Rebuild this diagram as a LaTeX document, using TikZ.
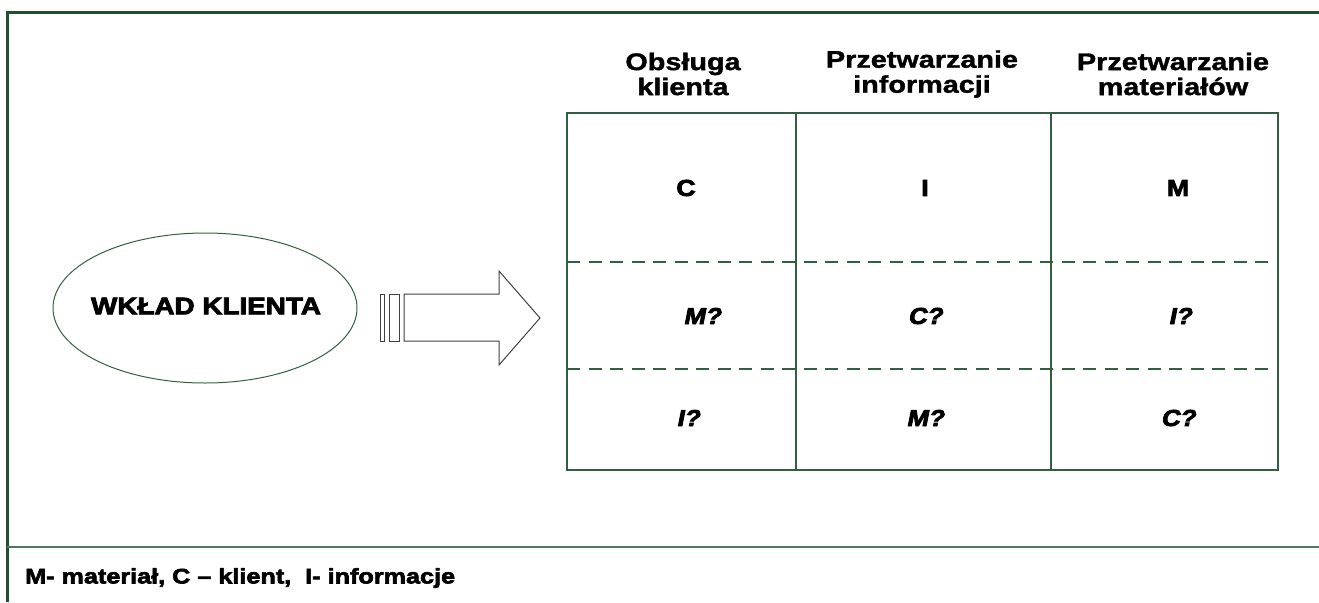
\documentclass[tikz,border=0pt]{standalone}
\usepackage{fontspec}
\setmainfont{Liberation Sans}
\newfontfamily\hfont[FakeStretch=1.2,FakeBold=1.5]{Liberation Sans Bold}
\newfontfamily\bfont[FakeStretch=1.16,FakeBold=3.5]{Liberation Sans Bold}
\newfontfamily\lfont[FakeStretch=1.2,FakeBold=3]{Liberation Sans Bold}
\newfontfamily\bifont[FakeStretch=1.12,FakeBold=3.5,FakeSlant=0.2]{Liberation Sans Bold}
\definecolor{frameg}{RGB}{32,80,48}
\definecolor{lineg}{RGB}{50,95,65}
\tikzset{
  frameline/.style={draw=frameg,line width=3pt},
  tabline/.style={draw=lineg,line width=2pt},
  dashline/.style={draw=lineg,line width=1.5pt,dash pattern=on 13pt off 8.5pt},
  hdr/.style={font=\hfont\fontsize{24}{25}\selectfont,align=center,inner sep=0pt},
  cell/.style={font=\bfont\fontsize{23}{26}\selectfont,inner sep=0pt},
  icell/.style={font=\bifont\fontsize{23}{26}\selectfont,inner sep=0pt},
  arrowpart/.style={draw=black!75,line width=1pt,fill=white}
}
\begin{document}
\begin{tikzpicture}[x=1pt,y=-1pt]
\useasboundingbox (0,0) rectangle (1319,602);
% outer frame
\coordinate (ftl) at (7,13);
\coordinate (ftr) at (1319,13);
\coordinate (fbl) at (7,602);
\draw[frameline] (ftr) -- (ftl) -- (fbl);
\coordinate (sl) at (7,547);
\coordinate (sr) at (1319,547);
\draw[draw=lineg!85,line width=1.5pt] (sl) -- (sr);
% ellipse
\draw[draw=lineg,line width=1pt] (205,308) ellipse [x radius=152, y radius=75];
\node[font=\bfont\fontsize{24}{26}\selectfont,inner sep=0pt] (wk) at (206,306) {WKŁAD KLIENTA};
% block arrow
\draw[arrowpart] (380,294) rectangle (384,341);
\draw[arrowpart] (389,294) rectangle (399,341);
\draw[arrowpart] (404,294) -- (499,294) -- (499,271) -- (540,318) -- (499,365) -- (499,341) -- (404,341) -- cycle;
% table
\coordinate (t1) at (567,113);
\coordinate (t2) at (1278,470);
\draw[dashline] (567,262) -- (1278,262);
\draw[dashline] (567,369) -- (1278,369);
\draw[tabline] (796,113) -- (796,470);
\draw[tabline] (1051,113) -- (1051,470);
\draw[tabline] (t1) rectangle (t2);
% headers
\node[hdr] (h1) at (683,74) {Obsługa\\klienta};
\node[hdr] (h2) at (922,74) {Przetwarzanie\\informacji};
\node[hdr] (h3) at (1173,74) {Przetwarzanie\\materiałów};
% cells
\node[cell] (c11) at (686,188) {C};
\node[cell] (c12) at (925,188) {I};
\node[cell] (c13) at (1178,188) {M};
\node[icell] (c21) at (702,316) {M?};
\node[icell] (c22) at (925,316) {C?};
\node[icell] (c23) at (1180,316) {I?};
\node[icell] (c31) at (688,418) {I?};
\node[icell] (c32) at (925,418) {M?};
\node[icell] (c33) at (1178,418) {C?};
% legend
\node[font=\lfont\fontsize{21}{23}\selectfont,anchor=west,inner sep=0pt] (leg) at (25,578) {M- materiał, C – klient,\ \ I- informacje};
\end{tikzpicture}
\end{document}
